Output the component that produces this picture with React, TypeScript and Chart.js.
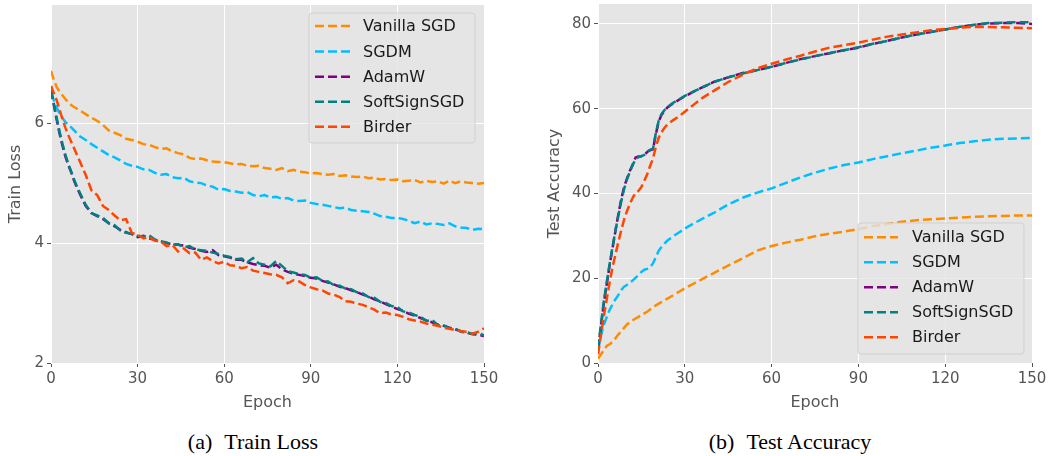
import React, { useEffect, useRef } from "react";
import { Chart, registerables } from "chart.js";

Chart.register(...registerables);

const FONT = '"DejaVu Sans", sans-serif';

const seriesNames = ["Vanilla SGD", "SGDM", "AdamW", "SoftSignSGD", "Birder"];
const seriesColors = ["#FF8C00", "#00BFFF", "#800080", "#008080", "#FF4500"];

const xTickValues = [0, 30, 60, 90, 120, 150];
const lossTickValues = [2, 4, 6];
const accTickValues = [0, 20, 40, 60, 80];

const lossEpochs = [0, 1, 2, 3, 4, 5, 6, 7, 8, 9, 10, 12, 14, 16, 18, 20, 22, 24, 26, 28, 30, 32, 34, 36, 38, 40, 42, 44, 46, 48, 50, 52, 54, 56, 58, 60, 62, 64, 66, 68, 70, 72, 74, 76, 78, 80, 82, 84, 86, 88, 90, 92, 94, 96, 98, 100, 102, 104, 106, 108, 110, 112, 114, 116, 118, 120, 122, 124, 126, 128, 130, 132, 134, 136, 138, 140, 142, 144, 146, 148, 150];

const lossVanilla = [6.87, 6.72, 6.60, 6.52, 6.46, 6.40, 6.35, 6.30, 6.27, 6.24, 6.21,
  6.15, 6.09, 6.04, 5.97, 5.88,
  5.84, 5.80, 5.74, 5.72, 5.69,
  5.65, 5.64, 5.60, 5.57, 5.58,
  5.53, 5.50, 5.48, 5.42, 5.40,
  5.41, 5.38, 5.36, 5.35, 5.35,
  5.33, 5.31, 5.32, 5.29, 5.28,
  5.29, 5.25, 5.24, 5.22, 5.25,
  5.20, 5.22, 5.19, 5.18, 5.16,
  5.17, 5.15, 5.14, 5.15, 5.12,
  5.13, 5.11, 5.10, 5.11, 5.08,
  5.09, 5.06, 5.07, 5.05, 5.06,
  5.03, 5.04, 5.05, 5.01, 5.04,
  5.02, 5.03, 4.99, 5.04, 5.00,
  5.03, 5.01, 5.00, 4.99, 5.00];

const lossSGDM = [6.50, 6.38, 6.26, 6.16, 6.08, 6.02, 5.97, 5.93, 5.88, 5.83, 5.78,
  5.72, 5.65, 5.59, 5.53, 5.47,
  5.43, 5.38, 5.32, 5.29, 5.27,
  5.23, 5.22, 5.17, 5.14, 5.15,
  5.10, 5.08, 5.09, 5.03, 5.01,
  5.00, 4.96, 4.94, 4.89, 4.90,
  4.87, 4.86, 4.84, 4.85, 4.80,
  4.78, 4.80, 4.76, 4.77, 4.74,
  4.75, 4.71, 4.70, 4.71, 4.67,
  4.65, 4.64, 4.62, 4.60, 4.58,
  4.59, 4.55, 4.54, 4.53, 4.52,
  4.49, 4.45, 4.44, 4.42, 4.42,
  4.40, 4.37, 4.33, 4.36, 4.31,
  4.33, 4.32, 4.30, 4.33, 4.28,
  4.26, 4.25, 4.22, 4.24, 4.23];

const lossAdamW = [6.55, 6.30, 6.05, 5.82, 5.62, 5.44, 5.30, 5.18, 5.04, 4.92, 4.82,
  4.62, 4.50, 4.45, 4.40, 4.33,
  4.28, 4.22, 4.18, 4.15, 4.10,
  4.12, 4.08, 4.05, 4.02, 4.00,
  3.98, 3.97, 3.96, 3.92, 3.90,
  3.87, 3.85, 3.88, 3.80, 3.78,
  3.76, 3.72, 3.72, 3.68, 3.65,
  3.63, 3.62, 3.59, 3.64, 3.56,
  3.52, 3.49, 3.47, 3.45, 3.42,
  3.41, 3.37, 3.34, 3.31, 3.27,
  3.25, 3.21, 3.18, 3.14, 3.11,
  3.06, 3.03, 2.98, 2.94, 2.90,
  2.87, 2.82, 2.79, 2.75, 2.71,
  2.68, 2.64, 2.62, 2.59, 2.56,
  2.53, 2.51, 2.48, 2.47, 2.45];

const lossSoftSign = [6.55, 6.32, 6.08, 5.85, 5.65, 5.47, 5.32, 5.19, 5.06, 4.94, 4.84,
  4.64, 4.50, 4.46, 4.42, 4.33,
  4.30, 4.21, 4.17, 4.16, 4.12,
  4.11, 4.13, 4.06, 4.03, 4.01,
  3.97, 3.98, 3.93, 3.95, 3.89,
  3.88, 3.87, 3.84, 3.82, 3.79,
  3.77, 3.73, 3.74, 3.68, 3.75,
  3.66, 3.64, 3.61, 3.70, 3.62,
  3.53, 3.51, 3.48, 3.47, 3.42,
  3.43, 3.37, 3.36, 3.30, 3.29,
  3.24, 3.23, 3.18, 3.16, 3.10,
  3.09, 3.02, 3.00, 2.95, 2.93,
  2.86, 2.84, 2.80, 2.77, 2.70,
  2.72, 2.63, 2.63, 2.58, 2.58,
  2.52, 2.51, 2.49, 2.50, 2.46];

const lossBirder = [6.62, 6.50, 6.38, 6.22, 6.06, 5.92, 5.80, 5.69, 5.58, 5.47, 5.36,
  5.14, 4.88, 4.80, 4.62, 4.55,
  4.46, 4.38, 4.40, 4.17, 4.14,
  4.08, 4.10, 4.04, 4.03, 3.95,
  3.97, 3.86, 3.91, 3.83, 3.84,
  3.72, 3.76, 3.70, 3.66, 3.69,
  3.63, 3.62, 3.58, 3.60, 3.54,
  3.52, 3.50, 3.48, 3.47, 3.43,
  3.33, 3.38, 3.36, 3.30, 3.26,
  3.23, 3.21, 3.16, 3.14, 3.10,
  3.03, 3.02, 2.99, 2.97, 2.93,
  2.89, 2.83, 2.84, 2.81, 2.80,
  2.77, 2.73, 2.71, 2.69, 2.66,
  2.64, 2.62, 2.59, 2.57, 2.55,
  2.53, 2.52, 2.49, 2.52, 2.58];

const accEpochs = [0, 1, 2, 3, 4, 5, 6, 7, 8, 9, 10, 11, 12, 13, 14, 15, 16, 17, 18, 19, 20, 21, 22, 23, 24, 26, 28, 30, 33, 36, 40, 45, 50, 55, 60, 65, 70, 75, 80, 85, 90, 95, 100, 105, 110, 115, 120, 125, 130, 135, 140, 145, 150];

const accVanilla = [1.0, 2.0, 3.0, 4.0, 4.4, 5.0, 5.8, 6.7, 7.5, 8.3, 9.1, 9.6, 10.1, 10.5, 10.9, 11.3, 11.7, 12.1, 12.6, 13.1, 13.6, 14.0, 14.4, 14.8, 15.2,
  16.0, 16.8, 17.6, 18.7, 19.8, 21.2, 23.0, 24.7, 26.5, 27.6,
  28.4, 29.1, 29.9, 30.5, 31.0, 31.6, 32.3, 32.8, 33.3, 33.7,
  33.9, 34.1, 34.3, 34.5, 34.6, 34.7, 34.8, 34.8];

const accSGDM = [3.0, 6.5, 9.0, 10.8, 12.5, 13.8, 15.0, 16.0, 17.2, 18.0, 18.4, 18.9, 19.5, 20.1, 20.8, 21.5, 22.0, 22.2, 22.6, 23.5, 25.0, 26.5, 27.4, 28.2, 28.9,
  29.9, 30.8, 31.7, 32.9, 34.0, 35.4, 37.4, 39.0, 40.2, 41.2,
  42.5, 43.8, 44.9, 45.9, 46.7, 47.3, 48.1, 48.8, 49.5, 50.1,
  50.8, 51.3, 51.9, 52.3, 52.7, 52.9, 53.0, 53.1];

const accAdamW = [3.0, 8.5, 14.0, 18.5, 23.0, 27.0, 31.0, 35.0, 38.5, 41.5, 43.5, 45.3, 46.8, 48.5, 48.7, 48.8, 49.0, 49.8, 50.2, 50.4, 54.0, 57.0, 58.6, 59.5, 60.3,
  61.3, 62.1, 62.9, 64.0, 65.0, 66.3, 67.4, 68.4, 69.1, 69.9,
  70.8, 71.7, 72.4, 73.1, 73.8, 74.4, 75.3, 76.0, 76.8, 77.5,
  78.1, 78.7, 79.3, 79.8, 80.1, 80.2, 80.2, 80.0];

const accSoftSign = [3.5, 9.0, 14.5, 19.0, 23.3, 27.3, 31.2, 34.6, 38.0, 41.0, 43.3, 45.1, 46.8, 48.0, 48.6, 48.8, 49.1, 49.9, 50.3, 50.6, 54.3, 57.2, 58.8, 59.7, 60.4,
  61.4, 62.2, 63.0, 64.0, 65.0, 66.3, 67.4, 68.3, 69.1, 69.9,
  70.8, 71.6, 72.4, 73.1, 73.8, 74.5, 75.3, 76.0, 76.8, 77.5,
  78.1, 78.7, 79.3, 79.8, 80.2, 80.3, 80.4, 80.4];

const accBirder = [2.0, 6.5, 11.0, 15.0, 19.0, 22.5, 25.5, 28.5, 31.2, 33.8, 35.8, 37.5, 39.0, 40.2, 40.6, 41.5, 43.0, 44.5, 46.5, 48.2, 51.0, 53.2, 54.5, 55.5, 56.3,
  57.3, 58.2, 59.3, 60.9, 62.5, 64.2, 66.3, 68.0, 69.5, 70.6,
  71.6, 72.5, 73.5, 74.4, 75.0, 75.6, 76.3, 77.0, 77.5, 78.0,
  78.5, 78.8, 79.1, 79.3, 79.3, 79.2, 79.1, 79.0];

type PanelCfg = {
  epochs: number[];
  series: number[][];
  yMin: number;
  yMax: number;
  yTicks: number[];
  yTitle: string;
  yAxisWidth: number;
  yTitlePad: number;
  padTop: number;
  padRight: number;
  legend: { bx: number; by: number; bw: number; bh: number; lx0: number; lx1: number; tx: number; rows: number[] };
};

const DASH = [9, 4];

function makeChart(canvas: HTMLCanvasElement, cfg: PanelCfg) {
  const bgPlugin = {
    id: "bgfill",
    beforeDraw(chart: any) {
      const { ctx, chartArea } = chart;
      ctx.save();
      ctx.fillStyle = "#E5E5E5";
      ctx.fillRect(chartArea.left, chartArea.top, chartArea.right - chartArea.left, chartArea.bottom - chartArea.top);
      ctx.restore();
    },
  };
  const legendPlugin = {
    id: "inlegend",
    afterDraw(chart: any) {
      const { ctx } = chart;
      const L = cfg.legend;
      ctx.save();
      const r = 3;
      ctx.beginPath();
      ctx.moveTo(L.bx + r, L.by);
      ctx.lineTo(L.bx + L.bw - r, L.by);
      ctx.quadraticCurveTo(L.bx + L.bw, L.by, L.bx + L.bw, L.by + r);
      ctx.lineTo(L.bx + L.bw, L.by + L.bh - r);
      ctx.quadraticCurveTo(L.bx + L.bw, L.by + L.bh, L.bx + L.bw - r, L.by + L.bh);
      ctx.lineTo(L.bx + r, L.by + L.bh);
      ctx.quadraticCurveTo(L.bx, L.by + L.bh, L.bx, L.by + L.bh - r);
      ctx.lineTo(L.bx, L.by + r);
      ctx.quadraticCurveTo(L.bx, L.by, L.bx + r, L.by);
      ctx.closePath();
      ctx.fillStyle = "rgba(229,229,229,0.8)";
      ctx.fill();
      ctx.strokeStyle = "rgba(204,204,204,0.8)";
      ctx.lineWidth = 1;
      ctx.stroke();
      ctx.font = `16px ${FONT}`;
      ctx.textBaseline = "middle";
      ctx.textAlign = "left";
      seriesNames.forEach((name, i) => {
        const y = L.rows[i];
        ctx.beginPath();
        ctx.setLineDash(DASH);
        ctx.lineWidth = 2.5;
        ctx.lineCap = "butt";
        ctx.strokeStyle = seriesColors[i];
        ctx.moveTo(L.lx0, y);
        ctx.lineTo(L.lx1, y);
        ctx.stroke();
        ctx.setLineDash([]);
        ctx.fillStyle = "#1a1a1a";
        ctx.fillText(name, L.tx, y + 1);
      });
      ctx.restore();
    },
  };

  return new Chart(canvas, {
    type: "line",
    data: {
      datasets: seriesNames.map((name, i) => ({
        label: name,
        data: cfg.epochs.map((e, j) => ({ x: e, y: cfg.series[i][j] })),
        borderColor: seriesColors[i],
        backgroundColor: seriesColors[i],
        borderWidth: 2.5,
        borderDash: DASH,
        borderCapStyle: "butt",
        pointRadius: 0,
        tension: 0,
        fill: false,
        order: 5 - i,
      })),
    },
    options: {
      responsive: false,
      animation: false,
      events: [],
      layout: { padding: { top: cfg.padTop, right: cfg.padRight, left: 0, bottom: 0 } },
      plugins: { legend: { display: false }, tooltip: { enabled: false } },
      scales: {
        x: {
          type: "linear",
          min: 0,
          max: 150,
          afterBuildTicks: (s: any) => {
            s.ticks = xTickValues.map((v) => ({ value: v }));
          },
          afterFit: (s: any) => {
            s.height = 57;
            s.paddingLeft = 0;
            s.paddingRight = 0;
          },
          ticks: { color: "#555555", font: { family: FONT, size: 15 }, padding: 3, maxRotation: 0, autoSkip: false },
          grid: { color: "#ffffff", lineWidth: 1, tickColor: "#555555", tickLength: 4, drawTicks: true },
          border: { display: false },
          title: { display: true, text: "Epoch", color: "#555555", font: { family: FONT, size: 16 }, padding: { top: 0, bottom: 8 } },
        },
        y: {
          type: "linear",
          min: cfg.yMin,
          max: cfg.yMax,
          afterBuildTicks: (s: any) => {
            s.ticks = cfg.yTicks.map((v) => ({ value: v }));
          },
          afterFit: (s: any) => {
            s.width = cfg.yAxisWidth;
            s.paddingTop = 0;
            s.paddingBottom = 0;
          },
          ticks: { color: "#555555", font: { family: FONT, size: 15 }, padding: 3 },
          grid: { color: "#ffffff", lineWidth: 1, tickColor: "#555555", tickLength: 4, drawTicks: true },
          border: { display: false },
          title: { display: true, text: cfg.yTitle, color: "#555555", font: { family: FONT, size: 16 }, padding: { top: cfg.yTitlePad, bottom: 0 } },
        },
      },
    } as any,
    plugins: [bgPlugin, legendPlugin],
  });
}

export default function App() {
  const leftRef = useRef<HTMLCanvasElement>(null);
  const rightRef = useRef<HTMLCanvasElement>(null);

  useEffect(() => {
    const left = makeChart(leftRef.current!, {
      epochs: lossEpochs,
      series: [lossVanilla, lossSGDM, lossAdamW, lossSoftSign, lossBirder],
      yMin: 2,
      yMax: 7.97,
      yTicks: lossTickValues,
      yTitle: "Train Loss",
      yAxisWidth: 51,
      yTitlePad: 6,
      padTop: 5,
      padRight: 16,
      legend: { bx: 309, by: 13, bw: 166, bh: 130, lx0: 315, lx1: 350, tx: 363, rows: [26, 51.5, 76.7, 101.7, 126.7] },
    });
    const right = makeChart(rightRef.current!, {
      epochs: accEpochs,
      series: [accVanilla, accSGDM, accAdamW, accSoftSign, accBirder],
      yMin: 0,
      yMax: 84.7,
      yTicks: accTickValues,
      yTitle: "Test Accuracy",
      yAxisWidth: 68,
      yTitlePad: 15,
      padTop: 4,
      padRight: 18,
      legend: { bx: 328, by: 223, bw: 166, bh: 131, lx0: 334, lx1: 368, tx: 382, rows: [237.3, 262.3, 287.3, 312.3, 337.3] },
    });
    return () => {
      left.destroy();
      right.destroy();
    };
  }, []);

  const captionStyle: React.CSSProperties = {
    position: "absolute",
    top: 431,
    width: 300,
    textAlign: "center",
    fontFamily: '"Liberation Serif", "Times New Roman", serif',
    fontSize: 22,
    lineHeight: "22px",
    color: "#000",
    whiteSpace: "nowrap",
  };

  return (
    <div style={{ position: "fixed", left: 0, top: 0, width: 1050, height: 456, background: "#fff", overflow: "hidden" }}>
      <canvas ref={leftRef} width={500} height={420} style={{ position: "absolute", left: 0, top: 0, display: "block" }} />
      <canvas ref={rightRef} width={520} height={420} style={{ position: "absolute", left: 530, top: 0, display: "block" }} />
      <div style={{ ...captionStyle, left: 253 - 150 }}>
        <span>(a)</span>
        <span style={{ marginLeft: 12 }}>Train Loss</span>
      </div>
      <div style={{ ...captionStyle, left: 790 - 150 }}>
        <span>(b)</span>
        <span style={{ marginLeft: 12 }}>Test Accuracy</span>
      </div>
    </div>
  );
}
